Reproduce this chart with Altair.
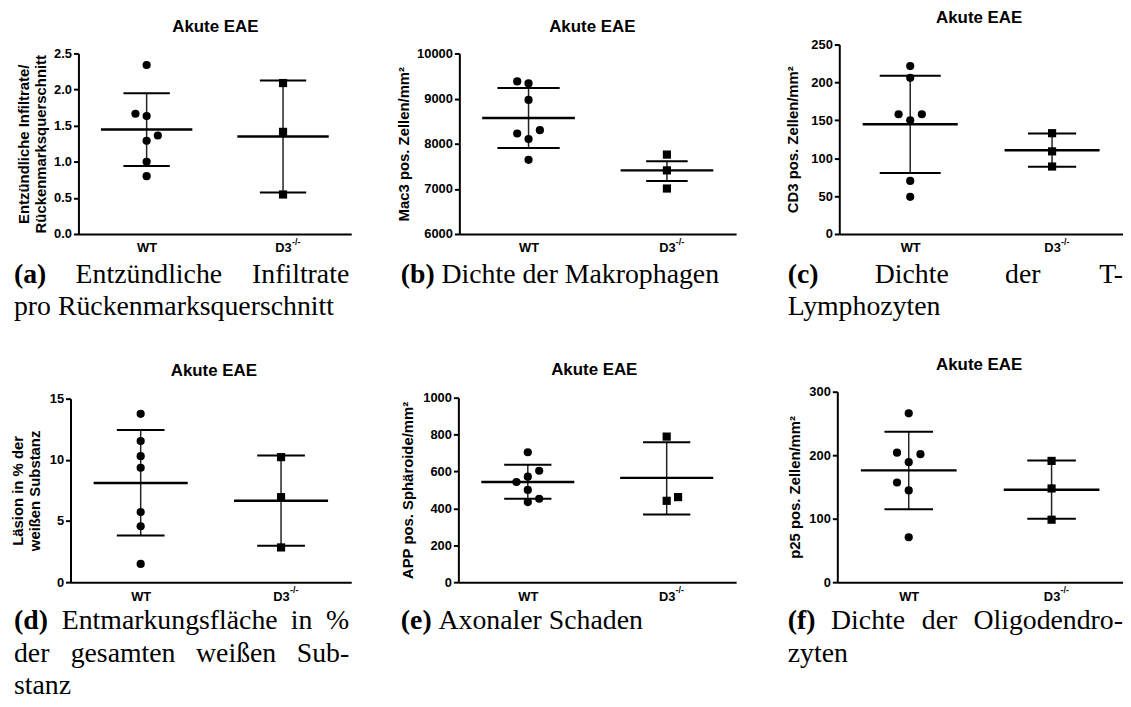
import altair as alt
import pandas as pd

SANS = "Liberation Sans"
SERIF = "Liberation Serif"
GROUPS = ["WT", "D3"]
TITLE_TEXT = "Akute EAE"

# ---------------- data ----------------
# (a) inflammatory infiltrates per spinal cord section
a_wt = [2.34, 1.665, 1.633, 1.364, 1.29, 1.00, 0.80]
a_wt_col = [0, -1, 0, 1, 0, 0, 0]
a_d3 = [2.09, 1.414, 0.547]
a_d3_col = [0, 0, 0]
a_mean = [1.446, 1.35]
a_low = [0.94, 0.575]
a_high = [1.948, 2.126]
a_ticks = [0, 0.5, 1.0, 1.5, 2.0, 2.5]
a_ytitle = ["Entzündliche Infiltrate/", "Rückenmarksquerschnitt"]
a_caption = [["(a)", "Entzündliche", "Infiltrate"], ["pro Rückenmarksquerschnitt"]]

# (b) macrophage density
b_wt = [9380, 9336, 8971, 8226, 8299, 8102, 7642]
b_wt_col = [-1, 0, 0, -1, 1, 0, 0]
b_d3 = [7759, 7409, 7007]
b_d3_col = [0, 0, 0]
b_mean = [8569, 7409]
b_low = [7905, 7175]
b_high = [9234, 7613]
b_ticks = [6000, 7000, 8000, 9000, 10000]
b_ytitle = "Mac3 pos. Zellen/mm²"
b_caption = [["(b)", "Dichte der Makrophagen"]]

# (c) T-lymphocyte density
c_wt = [221.5, 206, 158, 158, 150, 70, 49]
c_wt_col = [0, 0, -1, 1, 0, 0, 0]
c_d3 = [133, 109, 89]
c_d3_col = [0, 0, 0]
c_mean = [144.7, 110.5]
c_low = [80.5, 88.6]
c_high = [208.8, 132.5]
c_ticks = [0, 50, 100, 150, 200, 250]
c_ytitle = "CD3 pos. Zellen/mm²"
c_caption = [["(c)", "Dichte", "der", "T-"], ["Lymphozyten"]]

# (d) demyelinated area
d_wt = [13.76, 11.54, 10.3, 9.35, 5.73, 4.57, 1.49]
d_wt_col = [0, 0, 0, 0, 0, 0, 0]
d_d3 = [10.22, 6.95, 2.84]
d_d3_col = [0, 0, 0]
d_mean = [8.11, 6.65]
d_low = [3.81, 2.97]
d_high = [12.43, 10.35]
d_ticks = [0, 5, 10, 15]
d_ytitle = ["Läsion in % der", "weißen Substanz"]
d_caption = [["(d)", "Entmarkungsfläche", "in", "%"],
             ["der", "gesamten", "weißen", "Sub-"],
             ["stanz"]]

# (e) axonal damage
e_wt = [704, 604, 572, 543, 500, 452, 434]
e_wt_col = [0, 1, 0, -1, 0, 1, 0]
e_d3 = [789, 461, 441]
e_d3_col = [0, 1, 0]
e_mean = [543, 565]
e_low = [452, 367]
e_high = [636, 758]
e_ticks = [0, 200, 400, 600, 800, 1000]
e_ytitle = "APP pos. Sphäroide/mm²"
e_caption = [["(e)", "Axonaler Schaden"]]

# (f) oligodendrocyte density
f_wt = [266, 204, 201.6, 189, 157, 144.5, 70.7]
f_wt_col = [0, -1, 1, 0, -1, 0, 0]
f_d3 = [191, 147.6, 98.4]
f_d3_col = [0, 0, 0]
f_mean = [176, 145.5]
f_low = [115, 100]
f_high = [237, 191.6]
f_ticks = [0, 100, 200, 300]
f_ytitle = "p25 pos. Zellen/mm²"
f_caption = [["(f)", "Dichte", "der", "Oligodendro-"], ["zyten"]]

# ---------------- layout / style (pixels) ----------------
JIT = 0.082      # horizontal spread of overlapping points (x units)
MEAN_HW = 0.335  # half width of mean line (x units)
CAP_FS = 28

LAYOUT = {
    "a": dict(gx=67, gy=43, w=289, h=191, xr0=8, xr1=283, ytop=9, cap=(0.17, 0.17), tpad=5, toff=1, tdx=1.5, fmt=".1f"),
    "b": dict(gx=458, gy=43, w=280, h=191, xr0=1, xr1=280, ytop=9, cap=(0.225, 0.15), tpad=5, toff=1, tdx=-5, fmt="d"),
    "c": dict(gx=840, gy=43, w=288, h=191, xr0=2, xr1=288, ytop=0, cap=(0.215, 0.17), tpad=10, toff=3.5, tdx=-1, fmt="d"),
    "d": dict(gx=67, gy=393, w=289, h=192, xr0=0, xr1=283, ytop=7, cap=(0.17, 0.17), tpad=7, toff=4, tdx=0, fmt="d"),
    "e": dict(gx=458, gy=393, w=280, h=192, xr0=0, xr1=280, ytop=6, cap=(0.17, 0.17), tpad=7, toff=4.5, tdx=-3, fmt="d"),
    "f": dict(gx=840, gy=393, w=288, h=192, xr0=0, xr1=288, ytop=0, cap=(0.17, 0.17), tpad=6, toff=3.5, tdx=-1, fmt="d"),
}
ROW1_BASE = [283, 316]
ROW2_BASE = [632, 665, 698]
# justified caption lines: first word flush left, last word flush right, others centred
CAP_POS = {
    "a": [[(10, "left"), (146, "center"), (348, "right")], [(10, "left")]],
    "b": [[(400, "left"), (441, "left")]],
    "c": [[(790, "left"), (915, "center"), (1027, "center"), (1128, "right")], [(790, "left")]],
    "d": [[(10, "left"), (167, "center"), (300, "center"), (348, "right")],
          [(10, "left"), (120, "center"), (234, "center"), (348, "right")],
          [(10, "left")]],
    "e": [[(400, "left"), (438, "left")]],
    "f": [[(790, "left"), (871, "center"), (943, "center"), (1128, "right")], [(790, "left")]],
}


def make_panel(key, wt, wt_col, d3, d3_col, mean, low, high, ticks, ytitle, caption, baselines):
    L = LAYOUT[key]
    pts = pd.DataFrame({
        "grp": ["WT"] * len(wt) + ["D3"] * len(d3),
        "g": [0] * len(wt) + [1] * len(d3),
        "col": list(wt_col) + list(d3_col),
        "v": list(wt) + list(d3),
    })
    stats = pd.DataFrame({"grp": GROUPS, "g": [0, 1], "mean": mean, "low": low, "high": high})

    xs = alt.Scale(domain=[-0.5, 1.5], range=[L["xr0"], L["xr1"]], nice=False, zero=False)
    ys = alt.Scale(domain=[ticks[0], ticks[-1]], range=[L["h"], L["ytop"]], nice=False, zero=False)
    xax = alt.Axis(values=[0, 1], labelExpr="datum.value == 0 ? 'WT' : 'D3'", ticks=False, tickSize=0,
                   grid=False, labelPadding=8, labelFont=SANS, labelFontSize=13, labelFontWeight="bold",
                   labelColor="black", domainColor="black", domainWidth=2, title=None, labelFlush=False)
    yax = alt.Axis(values=ticks, format=L["fmt"], grid=False, tickSize=5, tickWidth=2, tickColor="black",
                   domainColor="black", domainWidth=2, labelFont=SANS, labelFontSize=13,
                   labelFontWeight="bold", labelColor="black", labelPadding=2, labelFlush=False,
                   labelOverlap=False, title=ytitle, titleFont=SANS, titleFontSize=15,
                   titleFontWeight="bold", titleColor="black", titlePadding=L["tpad"],
                   titleLineHeight=17, offset=-L["xr0"])

    def X(f):
        return alt.X(f, scale=xs, axis=xax)

    def Y(f):
        return alt.Y(f, scale=ys, axis=yax)

    points = alt.Chart(pts).transform_calculate(xp=f"datum.g + datum.col * {JIT}").mark_point(
        filled=True, opacity=1, color="black", size=68
    ).encode(
        x=X("xp:Q"), y=Y("v:Q"),
        shape=alt.Shape("grp:N", scale=alt.Scale(domain=GROUPS, range=["circle", "square"]), legend=None),
    )
    mean_rule = alt.Chart(stats).transform_calculate(
        x1=f"datum.g - {MEAN_HW}", x2=f"datum.g + {MEAN_HW}"
    ).mark_rule(color="black", strokeWidth=2.4).encode(x=X("x1:Q"), x2="x2:Q", y=Y("mean:Q"))
    caps = alt.Chart(stats).transform_fold(["low", "high"], as_=["bound", "val"]).transform_calculate(
        cw=f"datum.g == 0 ? {L['cap'][0]} : {L['cap'][1]}"
    ).transform_calculate(
        x1="datum.g - datum.cw", x2="datum.g + datum.cw"
    ).mark_rule(color="black", strokeWidth=2).encode(x=X("x1:Q"), x2="x2:Q", y=Y("val:Q"))
    vert = alt.Chart(stats).mark_rule(color="#222222", strokeWidth=1.5).encode(
        x=X("g:Q"), y=Y("low:Q"), y2="high:Q")
    sup = alt.Chart(pd.DataFrame({"g": [1], "t": ["-/-"]})).mark_text(
        align="left", baseline="middle", dx=9, font=SANS, fontSize=9, fontWeight="bold", color="black"
    ).encode(x=X("g:Q"), y=alt.value(L["h"] + 8), text="t:N")

    texts = []
    for li, (words, poss) in enumerate(zip(caption, CAP_POS[key])):
        for wi, (word, (xr, al)) in enumerate(zip(words, poss)):
            bold = (li == 0 and wi == 0)
            texts.append(
                alt.Chart(pd.DataFrame({"t": [word]})).mark_text(
                    font=SERIF, fontSize=CAP_FS, fontWeight="bold" if bold else "normal",
                    align=al, baseline="alphabetic", color="black"
                ).encode(text="t:N", x=alt.value(xr - L["gx"]), y=alt.value(baselines[li] - L["gy"]))
            )

    return alt.layer(vert, caps, mean_rule, points, sup, *texts).properties(
        width=L["w"], height=L["h"],
        title=alt.TitleParams(TITLE_TEXT, font=SANS, fontSize=17, fontWeight="bold", color="black",
                              anchor="middle", frame="group", baseline="middle",
                              offset=L["toff"], dx=L["tdx"]),
    )


pa = make_panel("a", a_wt, a_wt_col, a_d3, a_d3_col, a_mean, a_low, a_high, a_ticks, a_ytitle, a_caption, ROW1_BASE)
pb = make_panel("b", b_wt, b_wt_col, b_d3, b_d3_col, b_mean, b_low, b_high, b_ticks, b_ytitle, b_caption, ROW1_BASE)
pc = make_panel("c", c_wt, c_wt_col, c_d3, c_d3_col, c_mean, c_low, c_high, c_ticks, c_ytitle, c_caption, ROW1_BASE)
pd_ = make_panel("d", d_wt, d_wt_col, d_d3, d_d3_col, d_mean, d_low, d_high, d_ticks, d_ytitle, d_caption, ROW2_BASE)
pe = make_panel("e", e_wt, e_wt_col, e_d3, e_d3_col, e_mean, e_low, e_high, e_ticks, e_ytitle, e_caption, ROW2_BASE)
pf = make_panel("f", f_wt, f_wt_col, f_d3, f_d3_col, f_mean, f_low, f_high, f_ticks, f_ytitle, f_caption, ROW2_BASE)

chart = alt.concat(
    pa, pb, pc, pd_, pe, pf,
    columns=3, spacing={"row": 159, "column": 102}, bounds="flush", align="each",
).properties(
    padding={"left": 2, "top": -2, "right": 0, "bottom": 0},
    background="white",
).configure_view(strokeWidth=0)

chart.save("out.html", embed_options={"renderer": "svg", "actions": False})
